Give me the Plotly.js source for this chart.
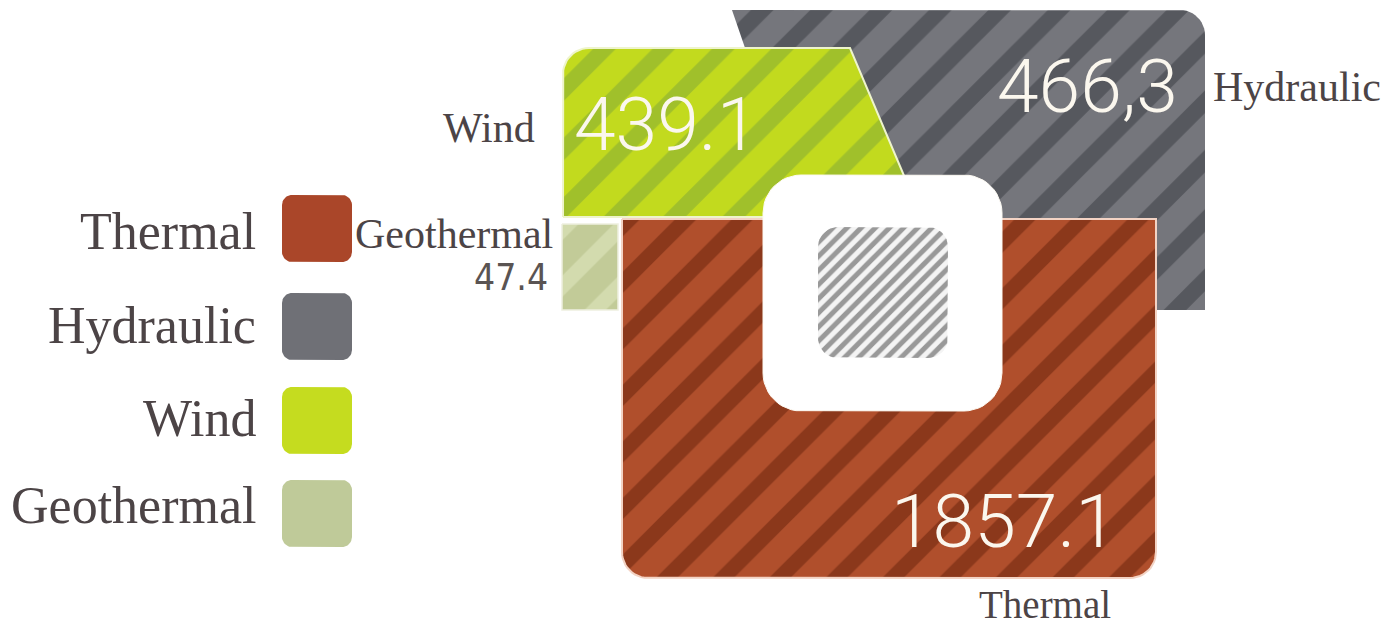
<!DOCTYPE html>
<html>
<head>
<meta charset="utf-8">
<script src="https://cdn.plot.ly/plotly-3.0.1.min.js"></script>
<style>
  html, body { margin: 0; padding: 0; background: #ffffff; overflow: hidden; }
  #chart { width: 1389px; height: 628px; }
</style>
</head>
<body>
<div id="chart"></div>
<script>
// ---------------- DATA ----------------
const categories = ['Thermal', 'Hydraulic', 'Wind', 'Geothermal'];
const values = [1857.1, 466.3, 439.1, 47.4];
const decimalSeparators = ['.', ',', '.', '.'];
const baseColors = ['#b04f2c', '#75767c', '#c2da1e', '#c2cb98'];
const stripeColors = ['#8b381b', '#56585e', '#a0c02b', '#d3dbae'];
const swatchColors = ['#aa4629', '#6f7076', '#c5dc1f', '#bfca99'];

// ---------------- GEOMETRY (page layout of the infographic, in pixels) ----------------
const W = 1389, H = 628;
function arc(cx, cy, r, a0, a1, n) {
  const pts = [];
  n = n || 12;
  for (let i = 0; i <= n; i++) {
    const t = a0 + (a1 - a0) * i / n;
    pts.push([cx + r * Math.cos(t), cy + r * Math.sin(t)]);
  }
  return pts;
}
const PI = Math.PI;
function roundRect(x0, y0, x1, y1, r) {
  // r = [tl, tr, br, bl]
  let pts = [];
  pts = pts.concat(r[0] ? arc(x0 + r[0], y0 + r[0], r[0], PI, 1.5 * PI) : [[x0, y0]]);
  pts = pts.concat(r[1] ? arc(x1 - r[1], y0 + r[1], r[1], 1.5 * PI, 2 * PI) : [[x1, y0]]);
  pts = pts.concat(r[2] ? arc(x1 - r[2], y1 - r[2], r[2], 0, 0.5 * PI) : [[x1, y1]]);
  pts = pts.concat(r[3] ? arc(x0 + r[3], y1 - r[3], r[3], 0.5 * PI, PI) : [[x0, y1]]);
  pts.push(pts[0]);
  return pts;
}
const shapeGeom = {
  Hydraulic: [[732, 10]].concat(arc(1180, 35, 25, 1.5 * PI, 2 * PI)).concat([[1205, 310], [835, 310], [732, 10]]),
  Wind: [[563, 217]].concat(arc(589, 74, 26, PI, 1.5 * PI)).concat([[850, 48], [905, 178], [905, 217], [563, 217]]),
  Geothermal: roundRect(562, 224, 618, 310, [0, 0, 0, 0]),
  Thermal: roundRect(622, 219, 1156, 578, [0, 0, 26, 26])
};
const drawOrder = ['Hydraulic', 'Wind', 'Geothermal', 'Thermal'];
const shapeBorder = { Hydraulic: ['rgba(0,0,0,0)', 0], Wind: ['#eef4cc', 2], Geothermal: ['#eef0e0', 1.5], Thermal: ['#f3d3c4', 2] };
const stripeSize = { Hydraulic: 42, Wind: 42, Geothermal: 40, Thermal: 40 };
const whiteBox = roundRect(763, 175, 1002, 411, [38, 38, 38, 38]);
const hatchBox = roundRect(818, 227, 948, 358, [20, 20, 20, 20]);

const legendGeom = { labelRight: 258, swX0: 282, swX1: 352, swH: 67, swTops: [195, 293, 387, 480], labelY: [231, 325, 418, 505] };

// value-label and name-label placement: [x, y, xanchor, yanchor]
const valuePos = { Thermal: [1119, 521, 'right', 'middle'], Hydraulic: [1180, 86, 'right', 'middle'], Wind: [572, 124, 'left', 'middle'], Geothermal: [550, 277, 'right', 'middle'] };
const namePos = { Thermal: [1045, 628, 'center', 'bottom'], Hydraulic: [1211, 87, 'left', 'middle'], Wind: [537, 128, 'right', 'middle'], Geothermal: [555, 234, 'right', 'middle'] };

// ---------------- BUILD ----------------
const traces = [];
drawOrder.forEach(function (cat) {
  const i = categories.indexOf(cat);
  const pts = shapeGeom[cat];
  traces.push({
    type: 'scatter', mode: 'lines', fill: 'toself',
    x: pts.map(p => p[0]), y: pts.map(p => p[1]),
    fillcolor: baseColors[i],
    fillpattern: { shape: '/', bgcolor: baseColors[i], fgcolor: stripeColors[i], size: stripeSize[cat], solidity: 0.38, fillmode: 'replace' },
    line: { color: shapeBorder[cat][0], width: shapeBorder[cat][1] },
    hoverinfo: 'skip', showlegend: false
  });
});
traces.push({
  type: 'scatter', mode: 'lines', fill: 'toself',
  x: whiteBox.map(p => p[0]), y: whiteBox.map(p => p[1]),
  fillcolor: '#ffffff', line: { color: '#fdfaf3', width: 1 }, hoverinfo: 'skip', showlegend: false
});
traces.push({
  type: 'scatter', mode: 'lines', fill: 'toself',
  x: hatchBox.map(p => p[0]), y: hatchBox.map(p => p[1]),
  fillcolor: '#ffffff',
  fillpattern: { shape: '/', bgcolor: '#f4f4f4', fgcolor: '#999999', size: 10, solidity: 0.5, fillmode: 'replace' },
  line: { color: 'rgba(0,0,0,0)', width: 0 }, hoverinfo: 'skip', showlegend: false
});
// legend swatches
categories.forEach(function (cat, i) {
  const t = legendGeom.swTops[i];
  const pts = roundRect(legendGeom.swX0, t, legendGeom.swX1, t + legendGeom.swH, [10, 10, 10, 10]);
  traces.push({
    type: 'scatter', mode: 'lines', fill: 'toself',
    x: pts.map(p => p[0]), y: pts.map(p => p[1]),
    fillcolor: swatchColors[i], line: { color: 'rgba(0,0,0,0)', width: 0 },
    hoverinfo: 'skip', showlegend: false
  });
});

const serif = 'Liberation Serif, Times New Roman, DejaVu Serif, serif';
const light = 'Roboto, DejaVu Sans Condensed, sans-serif';
const condensed = 'DejaVu Sans Condensed, Roboto, sans-serif';
const labelColor = '#4c4446';
const annotations = [];
categories.forEach(function (cat, i) {
  const txt = values[i].toFixed(1).replace('.', decimalSeparators[i]);
  const vp = valuePos[cat];
  const isSmall = cat === 'Geothermal';
  annotations.push({
    x: vp[0], y: vp[1], xref: 'x', yref: 'y', xanchor: vp[2], yanchor: vp[3],
    text: txt, showarrow: false,
    font: isSmall ? { family: condensed, size: 37, color: '#5a5453' }
                  : { family: light, size: 75, weight: 300, color: '#fbf7ee' }
  });
  const np = namePos[cat];
  annotations.push({
    x: np[0], y: np[1], xref: 'x', yref: 'y', xanchor: np[2], yanchor: np[3],
    text: cat, showarrow: false,
    font: { family: serif, size: cat === 'Thermal' ? 39 : 42, color: labelColor }
  });
  annotations.push({
    x: legendGeom.labelRight, y: legendGeom.labelY[i], xref: 'x', yref: 'y', xanchor: 'right', yanchor: 'middle',
    text: cat, showarrow: false,
    font: { family: serif, size: 52, color: labelColor }
  });
});

const layout = {
  width: W, height: H, autosize: false,
  margin: { l: 0, r: 0, t: 0, b: 0, pad: 0 },
  paper_bgcolor: '#ffffff', plot_bgcolor: '#ffffff',
  xaxis: { range: [0, W], visible: false, fixedrange: true },
  yaxis: { range: [H, 0], visible: false, fixedrange: true },
  showlegend: false,
  annotations: annotations
};
Plotly.newPlot('chart', traces, layout, { staticPlot: true, displayModeBar: false });
</script>
</body>
</html>
